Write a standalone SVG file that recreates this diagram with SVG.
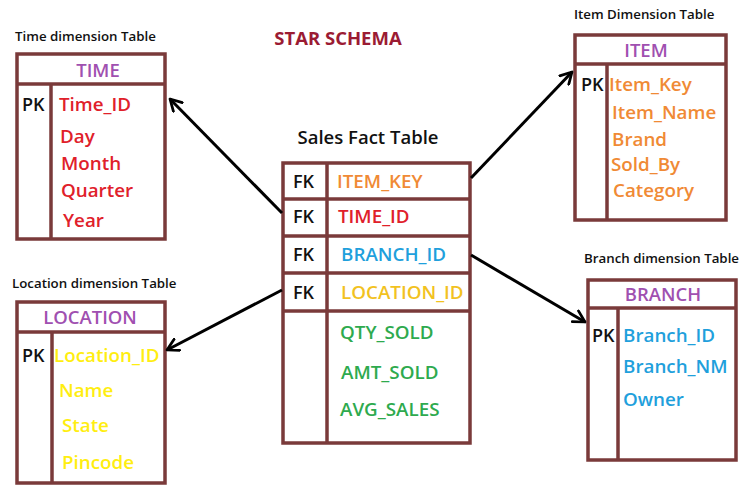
<svg xmlns="http://www.w3.org/2000/svg" width="750" height="490" viewBox="0 0 750 490">
<defs>
<marker id="ah" viewBox="0 0 12 12" refX="10" refY="6" markerWidth="5" markerHeight="5" orient="auto" markerUnits="strokeWidth">
<path d="M1,1 L10,6 L1,11" fill="none" stroke="#000" stroke-width="2.2" stroke-linecap="round" stroke-linejoin="round"/>
</marker>
<style>
text{font-family:"Open Sans","Liberation Sans",sans-serif;font-weight:600}
.box{fill:#fff;stroke:#7a3a3a;stroke-width:3.5}
.ln{stroke:#7a3a3a;stroke-width:3.5;fill:none}
.cap{font-size:13.3px;fill:#111}
.hd{font-size:18.5px;fill:#a050b0;text-anchor:middle}
.f{font-size:18.8px}
.k{font-size:18px;fill:#111}
.red{fill:#e0202a}.org{fill:#f08a35}.yel{fill:#ffee10}.gold{fill:#f2c21f}.blu{fill:#1fa0dc}.grn{fill:#2eaa4e}
.con{stroke:#000;stroke-width:3;fill:none;marker-end:url(#ah)}
</style>
</defs>
<rect width="750" height="490" fill="#fff"/>
<text x="338" y="45" text-anchor="middle" style="font-size:18.5px;font-weight:700;fill:#9b1b33">STAR SCHEMA</text>

<g id="time">
<text class="cap" x="15" y="41">Time dimension Table</text>
<rect class="box" x="17" y="54" width="148" height="185"/>
<line class="ln" x1="17" y1="84" x2="165" y2="84"/>
<line class="ln" x1="51" y1="84" x2="51" y2="239"/>
<text class="hd" x="98" y="77">TIME</text>
<text class="k" x="22" y="111">PK</text>
<text class="f red" x="59" y="111">Time_ID</text>
<text class="f red" x="60" y="143">Day</text>
<text class="f red" x="61" y="170">Month</text>
<text class="f red" x="61" y="197">Quarter</text>
<text class="f red" x="63" y="227">Year</text>
</g>

<g id="location">
<text class="cap" x="12" y="288">Location dimension Table</text>
<rect class="box" x="17" y="302" width="148" height="181"/>
<line class="ln" x1="17" y1="332" x2="165" y2="332"/>
<line class="ln" x1="52" y1="332" x2="52" y2="483"/>
<text class="hd" x="90" y="324">LOCATION</text>
<text class="k" x="22" y="362">PK</text>
<text class="f yel" x="54" y="362">Location_ID</text>
<text class="f yel" x="59" y="397">Name</text>
<text class="f yel" x="62" y="432">State</text>
<text class="f yel" x="62" y="469">Pincode</text>
</g>

<g id="fact">
<text x="368" y="144" text-anchor="middle" style="font-size:18.5px;fill:#111">Sales Fact Table</text>
<rect class="box" x="283" y="163" width="187" height="280"/>
<line class="ln" x1="283" y1="199" x2="470" y2="199"/>
<line class="ln" x1="283" y1="236" x2="470" y2="236"/>
<line class="ln" x1="283" y1="273" x2="470" y2="273"/>
<line class="ln" x1="283" y1="311" x2="470" y2="311"/>
<line class="ln" x1="327" y1="163" x2="327" y2="443"/>
<text class="k" x="293" y="188">FK</text>
<text class="f org" x="337" y="188">ITEM_KEY</text>
<text class="k" x="293" y="223">FK</text>
<text class="f red" x="338" y="223">TIME_ID</text>
<text class="k" x="293" y="261">FK</text>
<text class="f blu" x="341" y="261">BRANCH_ID</text>
<text class="k" x="293" y="299">FK</text>
<text class="f gold" x="341" y="299">LOCATION_ID</text>
<text class="f grn" x="340" y="339">QTY_SOLD</text>
<text class="f grn" x="341" y="379">AMT_SOLD</text>
<text class="f grn" x="340" y="416">AVG_SALES</text>
</g>

<g id="item">
<text class="cap" x="574" y="19">Item Dimension Table</text>
<rect class="box" x="575" y="35" width="151" height="185"/>
<line class="ln" x1="575" y1="64" x2="726" y2="64"/>
<line class="ln" x1="607" y1="64" x2="607" y2="220"/>
<text class="hd" x="646" y="57">ITEM</text>
<text class="k" x="581" y="91">PK</text>
<text class="f org" x="609" y="91">Item_Key</text>
<text class="f org" x="612" y="119">Item_Name</text>
<text class="f org" x="612" y="146">Brand</text>
<text class="f org" x="611" y="171">Sold_By</text>
<text class="f org" x="613" y="197">Category</text>
</g>

<g id="branch">
<text class="cap" x="584" y="263">Branch dimension Table</text>
<rect class="box" x="588" y="280" width="148" height="180"/>
<line class="ln" x1="588" y1="308" x2="736" y2="308"/>
<line class="ln" x1="618" y1="308" x2="618" y2="460"/>
<text class="hd" x="663" y="301">BRANCH</text>
<text class="k" x="592" y="342">PK</text>
<text class="f blu" x="623" y="342">Branch_ID</text>
<text class="f blu" x="623" y="373">Branch_NM</text>
<text class="f blu" x="623" y="406">Owner</text>
</g>

<g id="connectors">
<line class="con" x1="282" y1="213" x2="170" y2="99"/>
<line class="con" x1="282" y1="290" x2="167" y2="350"/>
<line class="con" x1="471" y1="178" x2="572" y2="72"/>
<line class="con" x1="471" y1="255" x2="585" y2="322"/>
</g>
</svg>
